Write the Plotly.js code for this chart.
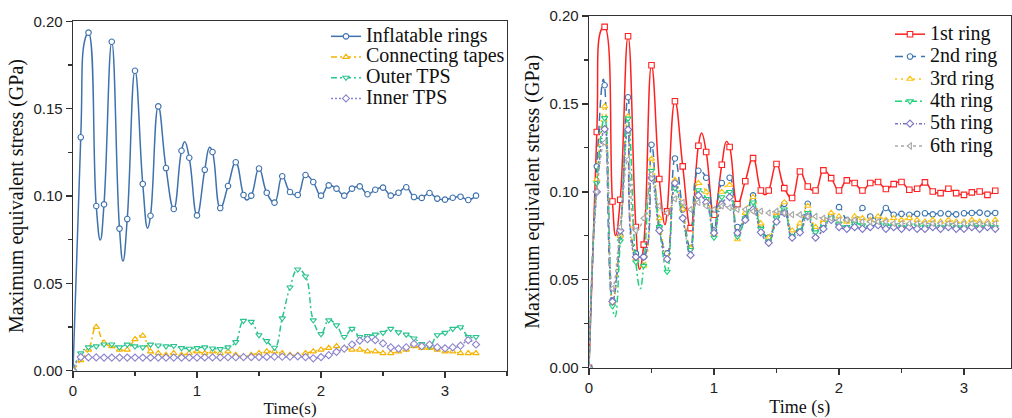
<!DOCTYPE html>
<html>
<head>
<meta charset="utf-8">
<script src="https://cdn.plot.ly/plotly-3.0.1.min.js"></script>
<style>html,body{margin:0;padding:0;background:#fff;}#chart{width:1012px;height:418px;}</style>
</head>
<body>
<div id="chart"></div>
<script>
// ---------- DATA ----------
const time = [0,0.0625,0.125,0.1875,0.25,0.3125,0.375,0.4375,0.5,0.5625,0.625,0.6875,0.75,0.8125,0.875,0.9375,1,1.0625,1.125,1.1875,1.25,1.3125,1.375,1.4375,1.5,1.5625,1.625,1.6875,1.75,1.8125,1.875,1.9375,2,2.0625,2.125,2.1875,2.25,2.3125,2.375,2.4375,2.5,2.5625,2.625,2.6875,2.75,2.8125,2.875,2.9375,3,3.0625,3.125,3.1875,3.25];

// Left panel (values at the marked samples)
const inflatableRings = [0,0.1336,0.1935,0.0943,0.0952,0.1883,0.0813,0.0868,0.1717,0.1069,0.0887,0.1513,0.116,0.0926,0.1259,0.1219,0.0889,0.115,0.1252,0.0931,0.1057,0.1193,0.1006,0.1002,0.1157,0.1019,0.0962,0.1113,0.1023,0.1006,0.112,0.108,0.1002,0.1061,0.1042,0.1002,0.1042,0.1055,0.101,0.1036,0.1048,0.1002,0.1019,0.105,0.0994,0.0989,0.1017,0.0985,0.0979,0.099,0.0996,0.0977,0.1002];
// curve extremes between marked samples
const inflatableCurveT = [0.098,0.22,0.403,0.602,0.901,1.102,1.40];
const inflatableCurveV = [0.190,0.0748,0.0628,0.0815,0.131,0.1279,0.0977];
const connectingTapes = [0,0.006,0.012,0.025,0.016,0.014,0.012,0.012,0.018,0.02,0.011,0.01,0.009,0.01,0.009,0.01,0.011,0.01,0.011,0.01,0.011,0.009,0.008,0.009,0.01,0.011,0.011,0.01,0.009,0.009,0.01,0.011,0.012,0.013,0.014,0.013,0.012,0.012,0.011,0.011,0.01,0.01,0.011,0.012,0.014,0.013,0.013,0.012,0.011,0.011,0.01,0.01,0.01];
const outerTPS = [0,0.01,0.0134,0.014,0.0151,0.0151,0.0134,0.015,0.014,0.0134,0.015,0.0145,0.014,0.0142,0.013,0.0126,0.013,0.0134,0.0128,0.0124,0.0134,0.0164,0.0286,0.028,0.0204,0.017,0.0132,0.03,0.0477,0.058,0.054,0.0289,0.021,0.0289,0.026,0.0194,0.024,0.0194,0.0199,0.0207,0.0217,0.024,0.022,0.0207,0.0185,0.0153,0.0139,0.0204,0.0217,0.024,0.0249,0.0194,0.0194];
const innerTPS = [0,0.0078,0.0076,0.0076,0.0075,0.0075,0.0075,0.0075,0.0075,0.0075,0.0075,0.0075,0.0075,0.0075,0.0075,0.0075,0.0075,0.0076,0.0076,0.0076,0.0077,0.0077,0.0078,0.0078,0.0078,0.0079,0.008,0.008,0.008,0.0082,0.0078,0.0071,0.0078,0.0089,0.0108,0.0126,0.015,0.0172,0.018,0.0175,0.0156,0.0134,0.0126,0.0134,0.0153,0.014,0.015,0.0134,0.0128,0.0134,0.0143,0.0175,0.015];

// Right panel
const ring1 = [0,0.134,0.1938,0.0945,0.0955,0.1885,0.08,0.07,0.172,0.1073,0.0889,0.1515,0.1145,0.0794,0.1262,0.1227,0.087,0.1154,0.1255,0.093,0.106,0.1192,0.1008,0.1008,0.1158,0.1021,0.0965,0.1116,0.103,0.1008,0.1122,0.1078,0.1008,0.1065,0.105,0.1008,0.105,0.1056,0.1016,0.1044,0.1056,0.1012,0.1018,0.1054,0.1002,0.0993,0.1018,0.0993,0.0983,0.0997,0.1002,0.0983,0.1006];
const ring1CurveT = [0.1,0.213,0.405,0.608,0.901,1.10,1.408];
const ring1CurveV = [0.1925,0.0752,0.056,0.0813,0.1335,0.1287,0.0983];
const ring2 = [0,0.1145,0.1606,0.038,0.075,0.1538,0.065,0.063,0.1268,0.08,0.065,0.119,0.09,0.068,0.112,0.108,0.078,0.105,0.108,0.08,0.085,0.098,0.08,0.074,0.086,0.0932,0.077,0.08,0.0932,0.078,0.082,0.086,0.0913,0.084,0.083,0.0908,0.086,0.085,0.0908,0.087,0.0875,0.087,0.0875,0.0878,0.0872,0.0878,0.0875,0.0872,0.0878,0.088,0.0882,0.0876,0.088];
const ring2CurveT = [0.115];
const ring2CurveV = [0.164];
const ring3 = [0,0.107,0.1486,0.037,0.075,0.1429,0.062,0.058,0.1188,0.085,0.062,0.1068,0.09,0.068,0.105,0.1,0.076,0.1,0.104,0.073,0.088,0.097,0.082,0.074,0.088,0.094,0.078,0.082,0.092,0.08,0.084,0.088,0.086,0.083,0.086,0.085,0.084,0.086,0.084,0.085,0.084,0.085,0.084,0.083,0.084,0.083,0.084,0.083,0.083,0.084,0.083,0.083,0.084];
const ring4 = [0,0.105,0.142,0.035,0.072,0.1417,0.06,0.058,0.112,0.08,0.0546,0.102,0.085,0.067,0.101,0.096,0.074,0.097,0.1,0.0746,0.085,0.094,0.079,0.072,0.085,0.09,0.075,0.078,0.088,0.077,0.08,0.085,0.082,0.08,0.082,0.081,0.08,0.082,0.081,0.081,0.08,0.081,0.081,0.08,0.081,0.08,0.081,0.08,0.08,0.081,0.08,0.081,0.08];
const ring4CurveT = [0.208,0.41];
const ring4CurveV = [0.029,0.045];
const ring5 = [0,0.1,0.1357,0.0376,0.078,0.1354,0.063,0.063,0.108,0.078,0.0617,0.105,0.085,0.064,0.098,0.094,0.0766,0.093,0.097,0.0766,0.084,0.09,0.077,0.071,0.083,0.088,0.074,0.077,0.086,0.074,0.079,0.084,0.08,0.079,0.08,0.079,0.08,0.081,0.079,0.08,0.079,0.08,0.079,0.079,0.08,0.079,0.08,0.079,0.079,0.08,0.079,0.08,0.079];
const ring6 = [0,0.1,0.128,0.045,0.08,0.1183,0.078,0.085,0.11,0.092,0.088,0.096,0.094,0.09,0.094,0.092,0.09,0.092,0.091,0.09,0.09,0.089,0.089,0.088,0.089,0.088,0.087,0.087,0.086,0.086,0.085,0.085,0.084,0.084,0.084,0.083,0.083,0.083,0.083,0.082,0.082,0.082,0.082,0.082,0.082,0.082,0.082,0.082,0.082,0.082,0.082,0.082,0.082];

const leftNames = ['Inflatable rings','Connecting tapes','Outer TPS','Inner TPS'];
const rightNames = ['1st ring','2nd ring','3rd ring','4th ring','5th ring','6th ring'];
const xTickVals = [0,1,2,3];
const yTickVals = [0,0.05,0.1,0.15,0.2];
const yTickText = ['0.00','0.05','0.10','0.15','0.20'];

// ---------- BUILD ----------
function merge(t, v, ct, cv){
  const pts = t.map((x, i) => ({x: x, y: v[i], m: true}));
  (ct || []).forEach((x, i) => pts.push({x: x, y: cv[i], m: false}));
  pts.sort((a, b) => a.x - b.x);
  return pts;
}
const SERIF = '"Liberation Serif"';
const SANS = '"Liberation Sans"';
function legName(n){ return '<span style="font-size:20px">' + n + '</span>'; }
function mk(pts, name, color, dash, symbol, xa, ya, leg){
  return {
    x: pts.map(p => p.x), y: pts.map(p => p.y), name: legName(name), type: 'scatter', mode: 'lines+markers',
    xaxis: xa, yaxis: ya, legend: leg,
    line: {color: color, width: 1.5, dash: dash, shape: 'spline', smoothing: 1.3},
    marker: {symbol: symbol, size: 5.5,
             color: pts.map(p => p.m ? '#ffffff' : 'rgba(0,0,0,0)'),
             line: {color: pts.map(p => p.m ? color : 'rgba(0,0,0,0)'), width: 1.1}},
    cliponaxis: true
  };
}
const traces = [
  mk(merge(time, inflatableRings, inflatableCurveT, inflatableCurveV), leftNames[0], '#3f72ad', 'solid', 'circle', 'x', 'y', 'legend'),
  mk(merge(time, connectingTapes), leftNames[1], '#f5b400', '6px,3px,2px,3px', 'triangle-up', 'x', 'y', 'legend'),
  mk(merge(time, outerTPS), leftNames[2], '#2ac48e', '6px,3px,2px,3px', 'triangle-down', 'x', 'y', 'legend'),
  mk(merge(time, innerTPS), leftNames[3], '#8c84cc', '2px,2px', 'diamond', 'x', 'y', 'legend'),
  mk(merge(time, ring1, ring1CurveT, ring1CurveV), rightNames[0], '#ff2020', 'solid', 'square', 'x2', 'y2', 'legend2'),
  mk(merge(time, ring2, ring2CurveT, ring2CurveV), rightNames[1], '#3b75b0', '8px,5px', 'circle', 'x2', 'y2', 'legend2'),
  mk(merge(time, ring3), rightNames[2], '#ffc20e', '2px,4px', 'triangle-up', 'x2', 'y2', 'legend2'),
  mk(merge(time, ring4, ring4CurveT, ring4CurveV), rightNames[3], '#1ed27a', '7px,3px,2px,3px', 'triangle-down', 'x2', 'y2', 'legend2'),
  mk(merge(time, ring5), rightNames[4], '#7a74c2', '3px,2px,1px,2px', 'diamond', 'x2', 'y2', 'legend2'),
  mk(merge(time, ring6), rightNames[5], '#a8a8a8', '3px,3px', 'triangle-left', 'x2', 'y2', 'legend2')
];

function xAx(domain, range, anchor, title, tsize){
  return {
    domain: domain, range: range, anchor: anchor,
    showline: true, mirror: true, linecolor: '#333', linewidth: 1.4,
    ticks: 'outside', ticklen: 6, tickwidth: 1.3, tickcolor: '#333',
    tickvals: xTickVals, ticktext: xTickVals.map(String),
    tickfont: {family: SANS, size: 15, color: '#222'},
    minor: {ticks: 'outside', ticklen: 3.5, tickwidth: 1.2, tickcolor: '#333', dtick: 0.5, showgrid: false},
    showgrid: false, zeroline: false,
    title: {text: title, font: {family: SERIF, size: tsize, color: '#111'}, standoff: 8}
  };
}
function yAx(domain, anchor){
  return {
    domain: domain, range: [0, 0.2], anchor: anchor,
    showline: true, mirror: true, linecolor: '#333', linewidth: 1.4,
    ticks: 'outside', ticklen: 6, tickwidth: 1.3, tickcolor: '#333',
    tickvals: yTickVals, ticktext: yTickText,
    tickfont: {family: SANS, size: 15, color: '#222'},
    minor: {ticks: 'outside', ticklen: 3.5, tickwidth: 1.2, tickcolor: '#333', dtick: 0.025, showgrid: false},
    showgrid: false, zeroline: false,
    title: {text: 'Maximum equivalent stress (GPa)', font: {family: SERIF, size: 20, color: '#111'}, standoff: 4}
  };
}

const W = 1012, H = 418;
const layout = {
  width: W, height: H,
  margin: {l: 0, r: 0, t: 0, b: 0, autoexpand: false},
  paper_bgcolor: '#ffffff', plot_bgcolor: '#ffffff',
  showlegend: true,
  font: {family: SERIF},
  xaxis: xAx([73/W, 507/W], [0, 3.5], 'y', 'Time(s)', 17),
  yaxis: yAx([1 - 370.7/H, 1 - 21.3/H], 'x'),
  xaxis2: xAx([589/W, 1010.5/W], [0, 3.372], 'y2', 'Time (s)', 18),
  yaxis2: yAx([1 - 367.7/H, 1 - 16/H], 'x2'),
  legend: {x: 326/W, y: 1 - 21/H, xanchor: 'left', yanchor: 'top', bgcolor: 'rgba(0,0,0,0)', borderwidth: 0,
           font: {family: SERIF, size: 13.6, color: '#111'}, tracegroupgap: 0},
  legend2: {x: 890/W, y: 1 - 18/H, xanchor: 'left', yanchor: 'top', bgcolor: 'rgba(0,0,0,0)', borderwidth: 0,
           font: {family: SERIF, size: 14.9, color: '#111'}, tracegroupgap: 0}
};

Plotly.newPlot('chart', traces, layout, {staticPlot: true, displayModeBar: false});
</script>
</body>
</html>
